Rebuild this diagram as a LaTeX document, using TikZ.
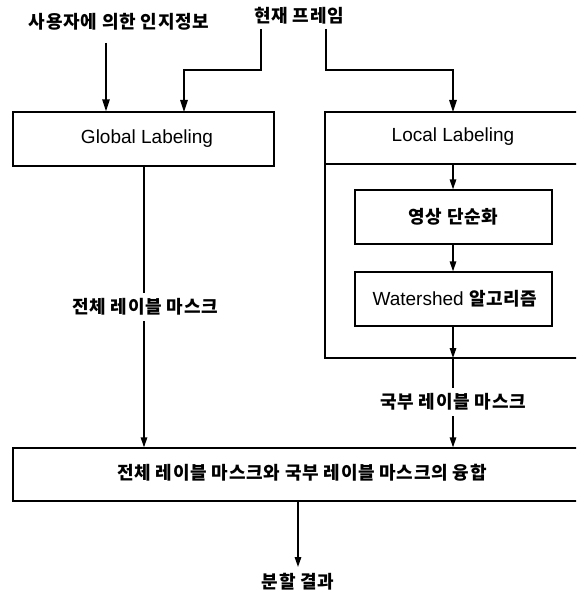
\documentclass[tikz,border=0pt]{standalone}
\usepackage{fontspec}
\setmainfont{Noto Sans CJK KR}
\newfontfamily\kr{Noto Sans CJK KR}[LetterSpace=4]
\newfontfamily\lat{Liberation Sans}
\usetikzlibrary{arrows.meta}
\begin{document}
\begin{tikzpicture}[x=1pt,y=-1pt,
  line width=1.4pt,
  arr/.style={-{Triangle[length=12pt,width=7.5pt]}},
  sarr/.style={-{Triangle[length=10pt,width=6.5pt]}},
  box/.style={draw,line width=1.3pt,rectangle,inner sep=0pt},
  krt/.style={font=\kr\bfseries\fontsize{18}{20}\selectfont,inner sep=1pt},
  lbl/.style={krt,fill=white,inner sep=6pt},
  latt/.style={font=\lat\fontsize{19}{21}\selectfont,inner sep=1pt}]
\clip (0,0) rectangle (576,593);
\useasboundingbox (0,0) rectangle (576,593);
\fill[white] (0,0) rectangle (576,593);

% top texts
\node[krt] (user) at (119,22) {사용자에 의한 인지정보};
\node[krt] (frame) at (299,16) {현재 프레임};

% boxes
\node[box,minimum width=261pt,minimum height=54pt] (global) at (143.5,139) {};
\node[latt] (globalt) at (147,139) {Global Labeling};

\draw[line width=1.3pt] (590,112) -- (325,112) -- (325,358) -- (590,358);
\coordinate (localtop) at (453,112);
\coordinate (localbot) at (453,358);
\draw[line width=1.3pt] (325,164) -- (590,164);
\coordinate (sep) at (453,164);
\node[latt] (localt) at (453,137) {Local Labeling};

\node[box,minimum width=197pt,minimum height=54pt] (simp) at (453.5,217) {};
\node[krt] (simpt) at (453.5,217) {영상 단순화};
\node[box,minimum width=197pt,minimum height=54pt] (water) at (453.5,299) {};
\node[inner sep=1pt] (watert) at (455,299) {\lat\fontsize{19}{21}\selectfont Watershed {\kr\bfseries\fontsize{18}{20}\selectfont 알고리즘}};

\node[box,minimum width=577pt,minimum height=53pt] (fuse) at (301.5,474.5) {};
\node[krt] (fuset) at (302,473) {전체 레이블 마스크와 국부 레이블 마스크의 융합};

\node[krt] (result) at (298,582) {분할 결과};

% connector coordinates
\coordinate (u0) at (106,43);
\coordinate (f1) at (261,29);
\coordinate (f2) at (326,29);

\draw[arr] (u0) -- (u0 |- global.north);
\draw[arr] (f1) -- (261,70) -- (184,70) -- (184,112);
\draw[arr] (f2) -- (326,70) -- (453,70) -- (localtop);

% global to fusion
\coordinate (g0) at (144,166);
\draw[sarr] (g0) -- (g0 |- fuse.north);
\node[lbl] (glab) at (145,307) {전체 레이블 마스크};

% local internals
\draw[sarr] (sep) -- (sep |- simp.north);
\draw[sarr] (sep |- simp.south) -- (sep |- water.north);
\draw[sarr] (sep |- water.south) -- (localbot);
\draw[sarr] (localbot) -- (localbot |- fuse.north);
\node[lbl] (llab) at (453,402) {국부 레이블 마스크};

% fusion to result
\coordinate (r0) at (298,501);
\draw[sarr] (r0) -- (298,567);
\end{tikzpicture}
\end{document}
